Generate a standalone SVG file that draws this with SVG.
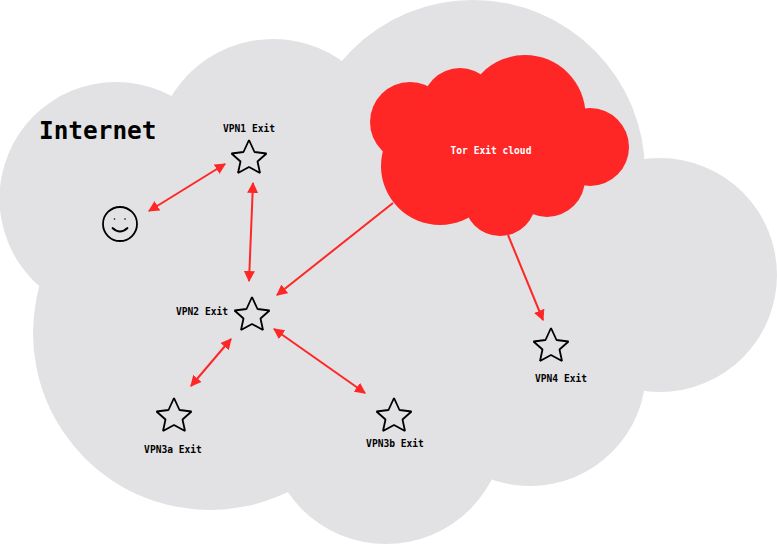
<svg xmlns="http://www.w3.org/2000/svg" width="777" height="544" viewBox="0 0 777 544">
<style>
.grey{fill:#e2e2e4}
.red{fill:#ff2626}
.lbl{font-family:"DejaVu Sans Mono","Liberation Mono",monospace;font-weight:700;font-size:9.6px;fill:#000;text-anchor:middle}
.star{fill:none;stroke:#000;stroke-width:1.800;stroke-linejoin:bevel}
.conn{stroke:#ff2626;stroke-width:2;fill:none}
</style>
<defs>
<marker id="ah" viewBox="0 0 10 10" refX="9" refY="5" markerWidth="11" markerHeight="11" markerUnits="userSpaceOnUse" orient="auto-start-reverse"><path d="M0 0L10 5L0 10Z" fill="#ff2626"/></marker>
<path id="s" d="M0 0L5.500 12L17.500 13.500L8.500 21.500L11 33L0 27L-11 33L-8.500 21.500L-17.500 13.500L-5.500 12Z"/>
</defs>
<g id="internet-cloud" class="grey">
<circle cx="116" cy="198.500" r="116.500"/><circle cx="273" cy="158" r="119"/><circle cx="473" cy="172" r="172"/><circle cx="660" cy="275" r="117"/><circle cx="210" cy="333" r="177"/><circle cx="386" cy="425" r="119"/><circle cx="530" cy="370" r="116"/><rect x="150" y="200" width="400" height="200"/>
<text x="39" y="139" style="font-family:'DejaVu Sans Mono','Liberation Mono',monospace;font-weight:700;font-size:24.4px;fill:#000">Internet</text>
</g>
<g id="tor-cloud">
<g class="red"><circle cx="410" cy="122" r="40"/><circle cx="460" cy="106" r="38"/><circle cx="525" cy="115.500" r="60.500"/><circle cx="590" cy="147" r="39"/><circle cx="440" cy="166" r="59"/><circle cx="500" cy="200" r="36"/><circle cx="547" cy="179" r="38"/><rect x="430" y="110" width="130" height="90"/></g>
<text x="491" y="154" class="lbl" style="fill:#fff">Tor Exit cloud</text>
</g>
<g id="connectors" class="conn">
<line x1="149" y1="211" x2="225" y2="164" marker-start="url(#ah)" marker-end="url(#ah)"/>
<line x1="253" y1="183" x2="249" y2="281" marker-start="url(#ah)" marker-end="url(#ah)"/>
<line x1="393" y1="203" x2="277" y2="295" marker-end="url(#ah)"/>
<line x1="231" y1="339" x2="191" y2="386" marker-start="url(#ah)" marker-end="url(#ah)"/>
<line x1="274" y1="329" x2="365" y2="393" marker-start="url(#ah)" marker-end="url(#ah)"/>
<line x1="508" y1="235" x2="543" y2="320" marker-end="url(#ah)"/>
</g>
<g id="user" fill="none" stroke="#000" stroke-width="1.800"><circle cx="120" cy="224" r="17"/><path d="M112.500 228Q120 235 127.500 228" stroke-linecap="round"/><circle cx="114.500" cy="219" r=".8" fill="#000" stroke="none"/><circle cx="125" cy="219" r=".8" fill="#000" stroke="none"/></g>
<g id="vpn1"><use href="#s" x="249" y="140" class="star"/><text x="249" y="131.500" class="lbl">VPN1 Exit</text></g>
<g id="vpn2"><use href="#s" x="252" y="297" class="star"/><text x="202" y="314.500" class="lbl">VPN2 Exit</text></g>
<g id="vpn3a"><use href="#s" x="174" y="398" class="star"/><text x="173" y="452.500" class="lbl">VPN3a Exit</text></g>
<g id="vpn3b"><use href="#s" x="394" y="398" class="star"/><text x="395" y="446.500" class="lbl">VPN3b Exit</text></g>
<g id="vpn4"><use href="#s" x="551" y="328" class="star"/><text x="561" y="381.500" class="lbl">VPN4 Exit</text></g>
</svg>
